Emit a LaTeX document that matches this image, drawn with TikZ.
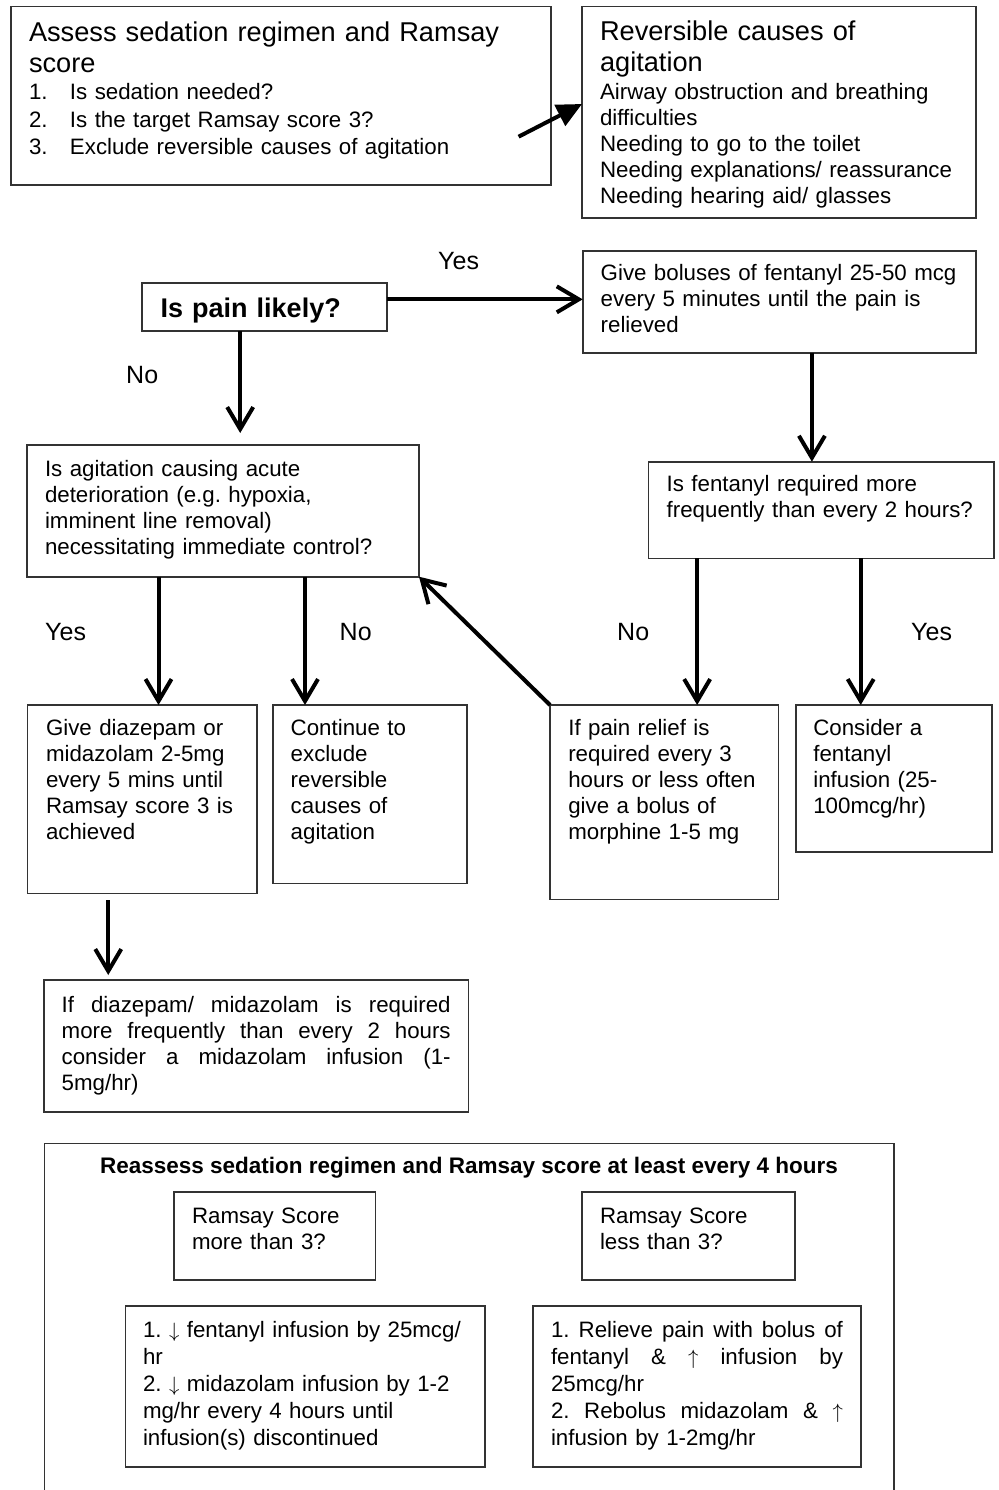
\documentclass[tikz,border=0pt]{standalone}
\usepackage{fontspec}
\setmainfont{Liberation Sans}
\usetikzlibrary{arrows.meta}
\newcommand\fbody{\fontsize{22.3}{26}\selectfont}
\newcommand\fhead{\fontsize{27.2}{31.2}\selectfont}
\newcommand\jline[2]{\leavevmode\hbox to #1{\spaceskip=0.278em plus 10em\relax\xspaceskip=\spaceskip #2}}
\newcommand\dn{$\downarrow$}
\newcommand\up{$\uparrow$}
\frenchspacing
\begin{document}
\begin{tikzpicture}[x=1pt,y=-1pt,
  box/.style={draw=black!80, line width=1.6pt, anchor=north west, inner sep=0pt, outer sep=0pt},
  tx/.style={anchor=base west, inner sep=0pt, outer sep=0pt, align=left, text width=#1, font=\fbody},
  tx/.default=600pt,
  lbl/.style={anchor=base west, inner sep=0pt, font=\fontsize{25}{30}\selectfont},
  arr/.style={line width=4pt, -{Straight Barb[length=22pt,width=26pt,line width=4pt]}},
  farr/.style={line width=4pt, -{Triangle[length=25pt,width=23pt]}}]
\useasboundingbox (0,0) rectangle (998,1490);

% boxes
\node[box, minimum width=540.3pt, minimum height=178.3pt] (A) at (10.7,6.7) {};
\node[box, minimum width=394.3pt, minimum height=211pt] (B) at (581.7,6.7) {};
\node[box, minimum width=245pt, minimum height=48.3pt] (P) at (141.7,282.7) {};
\node[box, minimum width=393pt, minimum height=102pt] (F) at (582.7,250.7) {};
\node[box, minimum width=392pt, minimum height=131.7pt] (G) at (27,445) {};
\node[box, minimum width=345.7pt, minimum height=96.6pt] (R) at (648.3,461.7) {};
\node[box, minimum width=229.4pt, minimum height=188.3pt] (D) at (27.3,705) {};
\node[box, minimum width=194pt, minimum height=178.3pt] (C) at (272.7,705) {};
\node[box, minimum width=228.3pt, minimum height=194.3pt] (M) at (550,705) {};
\node[box, minimum width=196pt, minimum height=146.7pt] (I) at (795.7,705) {};
\node[box, minimum width=424.3pt, minimum height=131.7pt] (Z) at (44,980) {};
\node[box, minimum width=849.5pt, minimum height=360pt] (O) at (44.5,1143.3) {};
\node[box, minimum width=201.7pt, minimum height=88.3pt] (S1) at (173.7,1191.7) {};
\node[box, minimum width=213pt, minimum height=88.3pt] (S2) at (582,1191.7) {};
\node[box, minimum width=359.6pt, minimum height=161pt] (L1) at (125.4,1305.7) {};
\node[box, minimum width=328pt, minimum height=161pt] (L2) at (533,1305.7) {};

% texts
\node[tx, font=\fhead] (Ah) at (29,41.5) {Assess sedation regimen and Ramsay\\score};
\node[tx, font=\fontsize{22.3}{27.5}\selectfont] (Ai) at (29,100)
  {\makebox[41pt][l]{1.}Is sedation needed?\\\makebox[41pt][l]{2.}Is the target Ramsay score 3?\\\makebox[41pt][l]{3.}Exclude reversible causes of agitation};
\node[tx, font=\fhead] (Bh) at (600,40.7) {Reversible causes of\\agitation};
\node[tx] (Bi) at (600,99.5) {Airway obstruction and breathing\\difficulties\\Needing to go to the toilet\\Needing explanations/ reassurance\\Needing hearing aid/ glasses};
\node[tx, font=\bfseries\fontsize{27}{31}\selectfont] (Pt) at (160.7,317.3) {Is pain likely?};
\node[tx] (Ft) at (600.7,280.7) {Give boluses of fentanyl 25-50 mcg\\every 5 minutes until the pain is\\relieved};
\node[tx] (Gt) at (45,476) {Is agitation causing acute\\deterioration (e.g. hypoxia,\\imminent line removal)\\necessitating immediate control?};
\node[tx] (Rt) at (666.7,491.7) {Is fentanyl required more\\frequently than every 2 hours?};
\node[tx] (Dt) at (46,735) {Give diazepam or\\midazolam 2-5mg\\every 5 mins until\\Ramsay score 3 is\\achieved};
\node[tx] (Ct) at (290.7,735) {Continue to\\exclude\\reversible\\causes of\\agitation};
\node[tx] (Mt) at (568.3,735) {If pain relief is\\required every 3\\hours or less often\\give a bolus of\\morphine 1-5 mg};
\node[tx] (It) at (813.3,735) {Consider a\\fentanyl\\infusion (25-\\100mcg/hr)};
\node[tx=390pt] (Zt) at (61.7,1012) {\jline{389pt}{If diazepam/ midazolam is required}\\\jline{389pt}{more frequently than every 2 hours}\\\jline{389pt}{consider a midazolam infusion (1-}\\5mg/hr)};
\node[anchor=base, inner sep=0pt, font=\bfseries\fontsize{22.5}{26}\selectfont] (Ot) at (469,1173.3) {Reassess sedation regimen and Ramsay score at least every 4 hours};
\node[tx, font=\fontsize{22.3}{25.5}\selectfont] (S1t) at (192,1223.7) {Ramsay Score\\more than 3?};
\node[tx, font=\fontsize{22.3}{25.5}\selectfont] (S2t) at (600,1223.7) {Ramsay Score\\less than 3?};
\node[tx, font=\fontsize{22.3}{26.9}\selectfont] (L1t) at (143,1337.5) {1. \dn{} fentanyl infusion by 25mcg/\\hr\\2. \dn{} midazolam infusion by 1-2\\mg/hr every 4 hours until\\infusion(s) discontinued};
\node[tx=293pt, font=\fontsize{22.3}{26.9}\selectfont] (L2t) at (551,1337.5) {\jline{292pt}{1. Relieve pain with bolus of}\\\jline{292pt}{fentanyl \& \up{} infusion by}\\25mcg/hr\\\jline{292pt}{2. Rebolus midazolam \& \up}\\infusion by 1-2mg/hr};

% labels
\node[lbl] (y1) at (438,269.3) {Yes};
\node[lbl] (n1) at (126,383) {No};
\node[lbl] (y2) at (45,640) {Yes};
\node[lbl] (n2) at (339.5,640) {No};
\node[lbl] (n3) at (617,640.7) {No};
\node[lbl] (y3) at (911,640.7) {Yes};

% connectors
\coordinate (a1) at (518.6,136.7);
\coordinate (b1) at (582,104);
\draw[farr] (a1) -- (b1);
\coordinate (p1) at ([yshift=7.5pt]P.east);
\draw[arr] (p1) -- (p1 -| F.west);
\coordinate (p2) at ([xshift=-24pt]P.south);
\draw[arr, shorten >=12pt] (p2) -- (p2 |- G.north);
\coordinate (f1) at ([xshift=32.7pt]F.south);
\draw[arr] (f1) -- (f1 |- R.north);
\coordinate (d1) at ([xshift=16.5pt]D.north);
\draw[arr] (d1 |- G.south) -- (d1);
\coordinate (c1) at ([xshift=-64.7pt]C.north);
\draw[arr] (c1 |- G.south) -- (c1);
\draw[arr] (M.north west) -- (G.south east);
\coordinate (m1) at ([xshift=33pt]M.north);
\draw[arr] (m1 |- R.south) -- (m1);
\coordinate (i1) at ([xshift=-33pt]I.north);
\draw[arr] (i1 |- R.south) -- (i1);
\coordinate (z1) at ([xshift=-147.9pt]Z.north);
\draw[arr, shorten <=7pt, shorten >=5pt] (z1 |- D.south) -- (z1);
\end{tikzpicture}
\end{document}
